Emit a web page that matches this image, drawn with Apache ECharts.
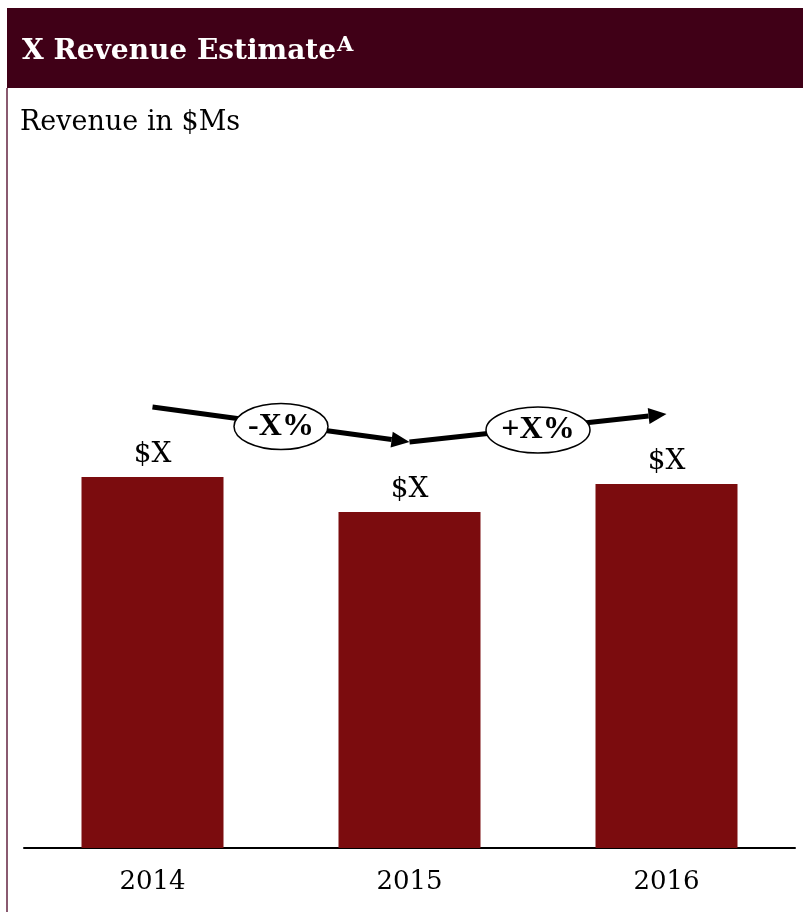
<!DOCTYPE html>
<html>
<head>
<meta charset="utf-8">
<style>
  html, body { margin: 0; padding: 0; background: #ffffff; }
  #chart { width: 803px; height: 912px; }
</style>
<script src="https://cdn.jsdelivr.net/npm/echarts@6/dist/echarts.min.js"></script>
</head>
<body>
<div id="chart"></div>
<script>
// Revenue by year (relative heights, $M placeholders shown as "$X")
const years = ['2014', '2015', '2016'];
const revenue = [53, 48, 52];
const barLabels = ['$X', '$X', '$X'];
// Year-over-year change badges between consecutive bars
const changeLabels = ['-X%', '+X%'];

const SERIF = 'Georgia, "DejaVu Serif", serif';
const BAR_COLOR = '#7b0c0e';
const HEADER_COLOR = '#400017';

const chart = echarts.init(document.getElementById('chart'));

const option = {
  animation: false,
  backgroundColor: '#ffffff',
  title: {
    text: 'X Revenue Estimate{sup|A}',
    left: 17,
    top: 30,
    textStyle: {
      color: '#ffffff',
      fontFamily: SERIF,
      fontWeight: 'bold',
      fontSize: 28,
      rich: {
        sup: {
          color: '#ffffff',
          fontFamily: SERIF,
          fontWeight: 'bold',
          fontSize: 21,
          verticalAlign: 'top',
          padding: [0, 0, 12, 1]
        }
      }
    }
  },
  grid: { left: 24, right: 8, top: 148, bottom: 64 },
  xAxis: {
    type: 'category',
    data: years,
    axisLine: { show: true, lineStyle: { color: '#000000', width: 2 } },
    axisTick: { show: false },
    axisLabel: {
      color: '#000000',
      fontFamily: SERIF,
      fontSize: 26,
      margin: 21
    }
  },
  yAxis: {
    type: 'value',
    min: 0,
    max: 100,
    show: false,
    splitLine: { show: false }
  },
  series: [{
    type: 'bar',
    data: revenue,
    barWidth: 142,
    itemStyle: { color: BAR_COLOR },
    label: {
      show: true,
      position: 'top',
      distance: 8,
      color: '#000000',
      fontFamily: SERIF,
      fontSize: 28,
      formatter: (p) => barLabels[p.dataIndex]
    }
  }],
  graphic: [
    {
      type: 'rect',
      shape: { x: 7, y: 8, width: 796, height: 80 },
      style: { fill: HEADER_COLOR },
      z: -1
    },
    {
      type: 'line',
      shape: { x1: 7, y1: 88, x2: 7, y2: 912 },
      style: { stroke: '#8a5a70', lineWidth: 2 }
    },
    {
      type: 'text',
      left: 20,
      top: 109,
      style: {
        text: 'Revenue in $Ms',
        fill: '#000000',
        font: '27px ' + SERIF
      }
    }
  ]
};

chart.setOption(option);

// Trend arrows float a fixed distance above each bar top
const ARROW_LIFT = 70;
const pts = revenue.map((v, i) => {
  const p = chart.convertToPixel({ seriesIndex: 0 }, [i, v]);
  return [p[0], p[1] - ARROW_LIFT];
});

const extra = [];
for (let i = 0; i < pts.length - 1; i++) {
  const [x1, y1] = pts[i];
  const [x2, y2] = pts[i + 1];
  const dx = x2 - x1, dy = y2 - y1;
  const len = Math.sqrt(dx * dx + dy * dy);
  const ux = dx / len, uy = dy / len;
  const headLen = 18, headHalf = 8;
  const bx = x2 - ux * headLen, by = y2 - uy * headLen;
  extra.push({
    type: 'line',
    shape: { x1: x1, y1: y1, x2: bx, y2: by },
    style: { stroke: '#000000', lineWidth: 5 },
    z: 10
  });
  extra.push({
    type: 'polygon',
    shape: {
      points: [
        [x2, y2],
        [bx - uy * headHalf, by + ux * headHalf],
        [bx + uy * headHalf, by - ux * headHalf]
      ]
    },
    style: { fill: '#000000' },
    z: 10
  });
  const cx = (x1 + x2) / 2, cy = (y1 + y2) / 2 + 2;
  extra.push({
    type: 'ellipse',
    shape: { cx: cx, cy: cy, rx: 47 + i * 5, ry: 23 },
    style: { fill: '#ffffff', stroke: '#000000', lineWidth: 1.5 },
    z: 11
  });
  extra.push({
    type: 'text',
    x: cx,
    y: cy,
    style: {
      text: changeLabels[i],
      fill: '#000000',
      fontFamily: '"Liberation Serif", "Times New Roman", serif',
      fontWeight: 'bold',
      fontSize: 32,
      align: 'center',
      verticalAlign: 'middle'
    },
    z: 12
  });
}

chart.setOption({ graphic: option.graphic.concat(extra) });
</script>
</body>
</html>
